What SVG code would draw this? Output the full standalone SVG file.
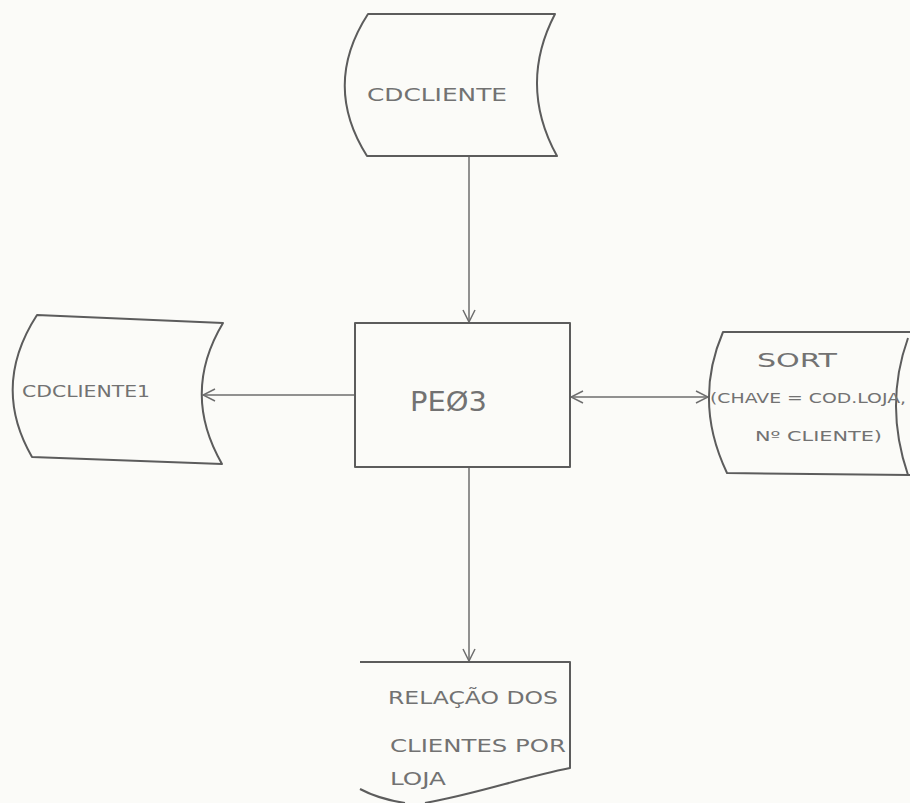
<svg xmlns="http://www.w3.org/2000/svg" width="910" height="803" viewBox="0 0 910 803">
  <style>
    .shape { fill: none; stroke: #5c5c5c; stroke-width: 2; stroke-linejoin: round; }
    .edge { fill: none; stroke: #6e6e6e; stroke-width: 1.5; }
    .lbl { font-family: "DejaVu Sans", "Liberation Sans", sans-serif; fill: #727272; }
  </style>
  <defs>
    <marker id="arrow" viewBox="0 0 14 14" refX="13" refY="7" markerWidth="14" markerHeight="14" markerUnits="userSpaceOnUse" orient="auto-start-reverse">
      <path d="M1,1 L13,7 L1,13" fill="none" stroke="#6e6e6e" stroke-width="1.5"/>
    </marker>
  </defs>
  <rect width="910" height="803" fill="#fbfbf8"/>

  <!-- connectors -->
  <g id="connectors">
    <line class="edge" x1="469" y1="156" x2="469" y2="322" marker-end="url(#arrow)"/>
    <line class="edge" x1="355" y1="395" x2="203" y2="395" marker-end="url(#arrow)"/>
    <line class="edge" x1="571" y1="397" x2="708" y2="397" marker-start="url(#arrow)" marker-end="url(#arrow)"/>
    <line class="edge" x1="469" y1="467" x2="469" y2="661" marker-end="url(#arrow)"/>
  </g>

  <!-- input file -->
  <g id="cdcliente">
    <path class="shape" d="M368,14 L555,14 Q518,85 557,156 L367,156 Q322,85 368,14 Z"/>
    <text class="lbl" x="367" y="101" font-size="18" textLength="140" lengthAdjust="spacingAndGlyphs">CDCLIENTE</text>
  </g>

  <!-- output file -->
  <g id="cdcliente1">
    <path class="shape" d="M37,315 L223,323 Q181,393 222,464 L32,457 Q-9,386 37,315 Z"/>
    <text class="lbl" x="22" y="397" font-size="16" textLength="128" lengthAdjust="spacingAndGlyphs">CDCLIENTE1</text>
  </g>

  <!-- program -->
  <g id="pe03">
    <rect class="shape" x="355" y="323" width="215" height="144"/>
    <text class="lbl" x="410" y="411" font-size="27" textLength="77" lengthAdjust="spacingAndGlyphs">PEØ3</text>
  </g>

  <!-- sort work file -->
  <g id="sort">
    <path class="shape" d="M910,332 L723,332 Q693,402 727,473 L910,475"/>
    <path class="shape" d="M908,338 Q884,405 908,475"/>
    <text class="lbl" x="757" y="367" font-size="20" textLength="80" lengthAdjust="spacingAndGlyphs">SORT</text>
    <text class="lbl" x="710" y="403" font-size="14" textLength="196" lengthAdjust="spacingAndGlyphs">(CHAVE = COD.LOJA,</text>
    <text class="lbl" x="755" y="441" font-size="14" textLength="127" lengthAdjust="spacingAndGlyphs">Nº CLIENTE)</text>
  </g>

  <!-- printed report -->
  <g id="relatorio">
    <path class="shape" d="M360,662 L570,662 L570,768 C520,778 480,793 425,803"/>
    <path class="shape" d="M360,789 C375,797 392,801 405,803"/>
    <text class="lbl" x="388" y="704" font-size="17" textLength="170" lengthAdjust="spacingAndGlyphs">RELAÇÃO DOS</text>
    <text class="lbl" x="390" y="752" font-size="17" textLength="176" lengthAdjust="spacingAndGlyphs">CLIENTES POR</text>
    <text class="lbl" x="390" y="785" font-size="17" textLength="56" lengthAdjust="spacingAndGlyphs">LOJA</text>
  </g>
</svg>
